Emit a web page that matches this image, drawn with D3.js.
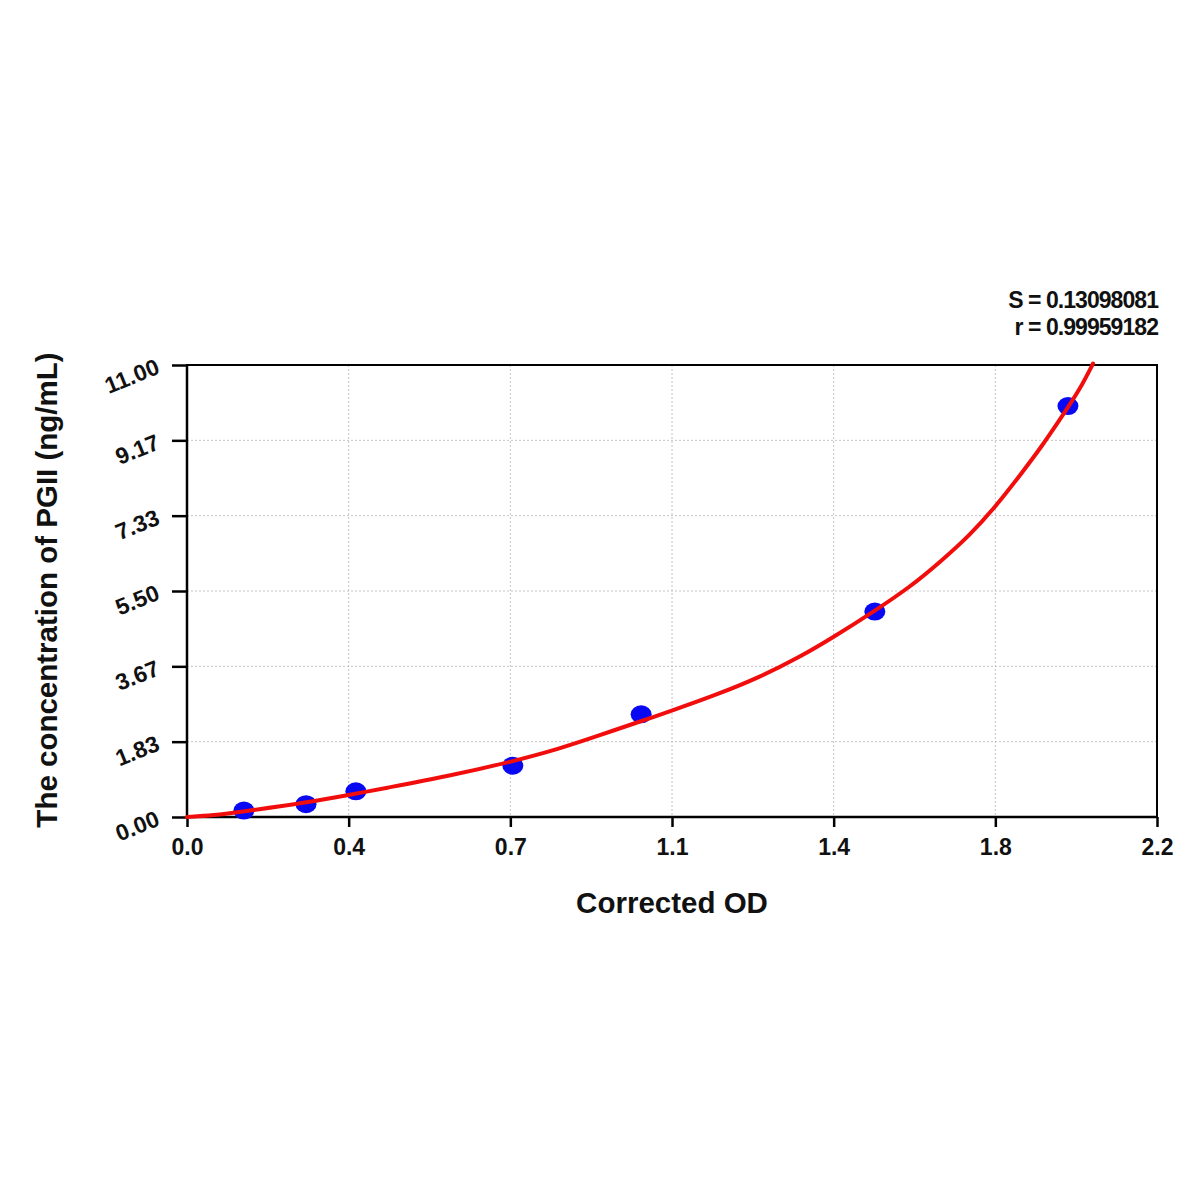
<!DOCTYPE html>
<html>
<head>
<meta charset="utf-8">
<script src="https://cdn.jsdelivr.net/npm/d3@7"></script>
<style>
  html, body { margin: 0; padding: 0; background: #fff; }
  svg { display: block; font-family: "Liberation Sans", Arial, sans-serif; }
</style>
</head>
<body>
<svg width="1200" height="1200"></svg>
<script>
// standards
var odValues = [0.129, 0.270, 0.383, 0.739, 1.030, 1.560, 1.998];
var concValues = [0.156, 0.312, 0.625, 1.25, 2.5, 5, 10];

// fitted curve
var curveOD = [0.000, 0.059, 0.127, 0.272, 0.386, 0.438, 0.590, 0.739, 0.846, 0.921,
               1.027, 1.095, 1.209, 1.300, 1.390, 1.465, 1.556, 1.640, 1.708, 1.776,
               1.833, 1.889, 1.941, 1.985, 2.025, 2.055];
var curveConc = [0.000, 0.037, 0.134, 0.353, 0.572, 0.681, 0.986, 1.351, 1.667, 1.935,
                 2.324, 2.568, 3.006, 3.407, 3.894, 4.368, 4.989, 5.597, 6.206, 6.863,
                 7.544, 8.311, 9.053, 9.759, 10.404, 11.037];

var xTickLabels = ["0.0", "0.4", "0.7", "1.1", "1.4", "1.8", "2.2"];
var yTickLabels = ["0.00", "1.83", "3.67", "5.50", "7.33", "9.17", "11.00"];
var statLines = ["S = 0.13098081", "r = 0.99959182"];

var svg = d3.select("svg");
var plotLeft = 187, plotRight = 1157, plotTop = 365, plotBottom = 817;

var x = d3.scaleLinear().domain([0, 2.2]).range([plotLeft, plotRight]);
var y = d3.scaleLinear().domain([0, 11]).range([plotBottom, plotTop]);

var xMajor = xTickLabels.map(function(d, i) { return i * 2.2 / 6; });
var yMajor = yTickLabels.map(function(d, i) { return i * 11 / 6; });
var xMinor = d3.range(25).map(function(i) { return i * 2.2 / 24; });
var yMinor = d3.range(25).map(function(i) { return i * 11 / 24; });

// grid
var grid = svg.append("g").attr("stroke", "#c4c4c4").attr("stroke-width", 1)
    .attr("stroke-dasharray", "2,2");
grid.selectAll(".gx").data(xMajor.slice(1, -1)).enter().append("line")
    .attr("x1", function(d) { return x(d); }).attr("x2", function(d) { return x(d); })
    .attr("y1", plotTop).attr("y2", plotBottom);
grid.selectAll(".gy").data(yMajor.slice(1, -1)).enter().append("line")
    .attr("y1", function(d) { return y(d); }).attr("y2", function(d) { return y(d); })
    .attr("x1", plotLeft).attr("x2", plotRight);

// frame
svg.append("rect")
    .attr("x", plotLeft).attr("y", plotTop)
    .attr("width", plotRight - plotLeft).attr("height", plotBottom - plotTop)
    .attr("fill", "none").attr("stroke", "#000").attr("stroke-width", 2);

// x axis
var xAxisG = svg.append("g").attr("transform", "translate(0," + plotBottom + ")");
xAxisG.call(d3.axisBottom(x).tickValues(xMinor).tickSize(7).tickFormat(""));
xAxisG.call(d3.axisBottom(x).tickValues(xMajor).tickSize(10).tickPadding(12)
    .tickFormat(function(d, i) { return xTickLabels[i]; }));
xAxisG.selectAll(".domain").remove();
xAxisG.selectAll("line").attr("stroke", "#000").attr("stroke-width", 2.5);
xAxisG.selectAll("text").attr("fill", "#111").attr("font-size", "23px")
    .attr("font-weight", "bold").attr("font-family", "Liberation Sans, Arial, sans-serif");

// y axis
var yAxisG = svg.append("g").attr("transform", "translate(" + plotLeft + ",0)");
yAxisG.call(d3.axisLeft(y).tickValues(yMinor).tickSize(10).tickFormat(""));
yAxisG.call(d3.axisLeft(y).tickValues(yMajor).tickSize(15).tickFormat(""));
yAxisG.selectAll(".domain").remove();
yAxisG.selectAll("line").attr("stroke", "#000").attr("stroke-width", 2.5);

svg.append("g").selectAll("text").data(yMajor).enter().append("text")
    .attr("transform", function(d) { return "translate(161," + (y(d) + 8) + ") rotate(-22)"; })
    .attr("text-anchor", "end")
    .attr("font-size", "23px").attr("font-weight", "bold").attr("fill", "#111")
    .text(function(d, i) { return yTickLabels[i]; });

// axis lines on top of the ticks
svg.append("line").attr("x1", plotLeft).attr("x2", plotRight)
    .attr("y1", plotBottom).attr("y2", plotBottom)
    .attr("stroke", "#000").attr("stroke-width", 2.5);
svg.append("line").attr("x1", plotLeft).attr("x2", plotLeft)
    .attr("y1", plotTop).attr("y2", plotBottom)
    .attr("stroke", "#000").attr("stroke-width", 2.5);

// standards
svg.append("g").selectAll("ellipse").data(odValues).enter().append("ellipse")
    .attr("cx", function(d) { return x(d); })
    .attr("cy", function(d, i) { return y(concValues[i]); })
    .attr("rx", 10.5).attr("ry", 9)
    .attr("fill", "#0808f2");

// curve, smoothed through the traced points
var line = d3.line()
    .x(function(d) { return x(d[0]); })
    .y(function(d) { return y(d[1]); })
    .curve(d3.curveBasis);

svg.append("path")
    .datum(curveOD.map(function(d, i) { return [d, curveConc[i]]; }))
    .attr("d", line)
    .attr("fill", "none").attr("stroke", "#f20d0d")
    .attr("stroke-width", 4).attr("stroke-linecap", "round");

// titles
svg.append("text")
    .attr("x", 672).attr("y", 913)
    .attr("text-anchor", "middle")
    .attr("font-size", "29.5px").attr("font-weight", "bold").attr("fill", "#111")
    .text("Corrected OD");

svg.append("text")
    .attr("transform", "translate(57,590) rotate(-90)")
    .attr("text-anchor", "middle")
    .attr("font-size", "29.5px").attr("font-weight", "bold").attr("fill", "#111")
    .text("The concentration of PGII (ng/mL)");

svg.append("g").selectAll("text").data(statLines).enter().append("text")
    .attr("x", 1158).attr("y", function(d, i) { return 308 + i * 27; })
    .attr("text-anchor", "end")
    .attr("font-size", "23px").attr("font-weight", "bold").attr("fill", "#111")
    .attr("letter-spacing", "-0.95")
    .text(function(d) { return d; });
</script>
</body>
</html>
